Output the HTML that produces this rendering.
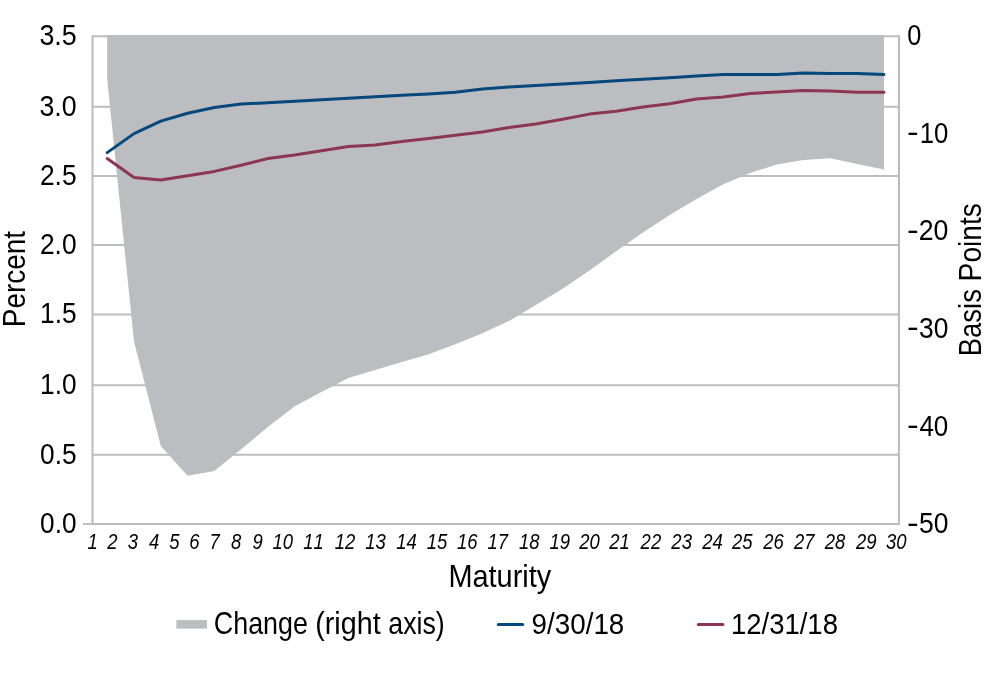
<!DOCTYPE html>
<html lang="en"><head><meta charset="utf-8"><title>Yield curve chart</title>
<style>html,body{margin:0;padding:0;background:#fff}svg{display:block}svg text{font-family:"Liberation Sans",Arial,sans-serif;font-kerning:none}</style></head>
<body>
<svg width="985" height="673" viewBox="0 0 985 673" font-size="30.7" fill="#000">
<rect width="985" height="673" fill="#fff"/>
<line x1="92.5" y1="36.25" x2="900" y2="36.25" stroke="#bcbdc0" stroke-width="2.1"/>
<line x1="92.5" y1="106.75" x2="900" y2="106.75" stroke="#bcbdc0" stroke-width="2.1"/>
<line x1="92.5" y1="176.00" x2="900" y2="176.00" stroke="#bcbdc0" stroke-width="2.1"/>
<line x1="92.5" y1="245.05" x2="900" y2="245.05" stroke="#bcbdc0" stroke-width="2.1"/>
<line x1="92.5" y1="314.50" x2="900" y2="314.50" stroke="#bcbdc0" stroke-width="2.1"/>
<line x1="92.5" y1="385.30" x2="900" y2="385.30" stroke="#bcbdc0" stroke-width="2.1"/>
<line x1="92.5" y1="454.75" x2="900" y2="454.75" stroke="#bcbdc0" stroke-width="2.1"/>
<line x1="83" y1="523.95" x2="900" y2="523.95" stroke="#bcbdc0" stroke-width="2.1"/>
<line x1="92.5" y1="35.35" x2="92.5" y2="525" stroke="#bcbdc0" stroke-width="2.1"/>
<line x1="898.95" y1="35.35" x2="898.95" y2="525" stroke="#bcbdc0" stroke-width="2.1"/>
<path d="M107.2,35 L884.0,35 L884.0,169.4 L857.2,164.0 L830.4,158.2 L803.6,160.0 L776.9,164.6 L750.1,172.9 L723.3,184.2 L696.5,199.0 L669.7,215.1 L642.9,232.6 L616.1,251.3 L589.4,270.6 L562.6,288.7 L535.8,305.0 L509.0,321.0 L482.2,333.3 L455.4,344.2 L428.6,354.3 L401.8,362.0 L375.1,370.0 L348.3,378.0 L321.5,392.0 L294.7,406.2 L267.9,427.0 L241.1,449.3 L214.3,470.9 L187.6,475.8 L160.8,446.1 L134.0,341.6 L107.2,79.0 Z" fill="#bcbdc0"/>
<polyline points="107.2,152.6 134.0,133.6 160.8,121.1 187.6,113.3 214.3,107.5 241.1,104.1 267.9,102.7 294.7,101.2 321.5,99.7 348.3,98.3 375.1,96.8 401.8,95.3 428.6,93.9 455.4,92.2 482.2,89.0 509.0,87.0 535.8,85.4 562.6,84.1 589.4,82.4 616.1,80.7 642.9,79.2 669.7,77.8 696.5,76.1 723.3,74.6 750.1,74.6 776.9,74.5 803.6,73.0 830.4,73.5 857.2,73.5 884.0,74.5" fill="none" stroke="#06487b" stroke-width="3" stroke-linecap="round" stroke-linejoin="round"/>
<polyline points="107.2,158.5 134.0,177.5 160.8,180.1 187.6,175.8 214.3,171.4 241.1,165.3 267.9,158.5 294.7,155.0 321.5,150.7 348.3,146.5 375.1,145.0 401.8,141.6 428.6,138.5 455.4,135.3 482.2,132.1 509.0,127.5 535.8,124.1 562.6,119.2 589.4,114.1 616.1,111.2 642.9,107.0 669.7,103.8 696.5,99.0 723.3,97.0 750.1,93.6 776.9,91.9 803.6,90.5 830.4,91.0 857.2,92.3 884.0,92.3" fill="none" stroke="#8b3753" stroke-width="3" stroke-linecap="round" stroke-linejoin="round"/>
<text x="39.38" y="45.05" font-size="30.4" textLength="37.25" lengthAdjust="spacingAndGlyphs">3.5</text>
<text x="39.38" y="115.55" font-size="30.4" textLength="37.16" lengthAdjust="spacingAndGlyphs">3.0</text>
<text x="39.97" y="184.80" font-size="30.4" textLength="36.63" lengthAdjust="spacingAndGlyphs">2.5</text>
<text x="39.98" y="253.85" font-size="30.4" textLength="36.55" lengthAdjust="spacingAndGlyphs">2.0</text>
<text x="40.10" y="323.30" font-size="30.4" textLength="36.50" lengthAdjust="spacingAndGlyphs">1.5</text>
<text x="40.10" y="394.10" font-size="30.4" textLength="36.42" lengthAdjust="spacingAndGlyphs">1.0</text>
<text x="40.07" y="463.55" font-size="30.4" textLength="36.53" lengthAdjust="spacingAndGlyphs">0.5</text>
<text x="40.08" y="532.75" font-size="30.4" textLength="36.45" lengthAdjust="spacingAndGlyphs">0.0</text>
<text x="907.31" y="44.90" font-size="30.4" textLength="14.08" lengthAdjust="spacingAndGlyphs">0</text>
<text x="906.93" y="142.40" font-size="30.4" textLength="11.73" lengthAdjust="spacingAndGlyphs">-</text>
<text x="919.64" y="142.70" font-size="30.4" textLength="28.67" lengthAdjust="spacingAndGlyphs">10</text>
<text x="906.93" y="239.60" font-size="30.4" textLength="11.73" lengthAdjust="spacingAndGlyphs">-</text>
<text x="918.66" y="239.90" font-size="30.4" textLength="29.68" lengthAdjust="spacingAndGlyphs">20</text>
<text x="906.93" y="337.30" font-size="30.4" textLength="11.73" lengthAdjust="spacingAndGlyphs">-</text>
<text x="919.00" y="337.60" font-size="30.4" textLength="29.33" lengthAdjust="spacingAndGlyphs">30</text>
<text x="906.93" y="435.40" font-size="30.4" textLength="11.73" lengthAdjust="spacingAndGlyphs">-</text>
<text x="919.40" y="435.70" font-size="30.4" textLength="28.91" lengthAdjust="spacingAndGlyphs">40</text>
<text x="906.93" y="532.60" font-size="30.4" textLength="11.73" lengthAdjust="spacingAndGlyphs">-</text>
<text x="918.94" y="532.90" font-size="30.4" textLength="29.39" lengthAdjust="spacingAndGlyphs">50</text>
<g transform="translate(24.5,0) rotate(-90)"><text x="-327.19" y="0.00" textLength="96.19" lengthAdjust="spacingAndGlyphs">Percent</text></g>
<g transform="translate(981.1,0) rotate(-90)"><text x="-356.25" y="0.00" textLength="67.14" lengthAdjust="spacingAndGlyphs">Basis</text><text x="-281.41" y="0.00" textLength="78.33" lengthAdjust="spacingAndGlyphs">Points</text></g>
<text x="448.43" y="586.75" textLength="102.83" lengthAdjust="spacingAndGlyphs">Maturity</text>
<text x="87.41" y="548.90" font-size="22.8" textLength="10.27" lengthAdjust="spacingAndGlyphs" font-style="italic">1</text>
<text x="107.25" y="548.90" font-size="22.8" textLength="10.27" lengthAdjust="spacingAndGlyphs" font-style="italic">2</text>
<text x="127.73" y="548.90" font-size="22.8" textLength="10.27" lengthAdjust="spacingAndGlyphs" font-style="italic">3</text>
<text x="148.95" y="548.90" font-size="22.8" textLength="10.27" lengthAdjust="spacingAndGlyphs" font-style="italic">4</text>
<text x="169.23" y="548.90" font-size="22.8" textLength="10.27" lengthAdjust="spacingAndGlyphs" font-style="italic">5</text>
<text x="189.25" y="548.90" font-size="22.8" textLength="10.27" lengthAdjust="spacingAndGlyphs" font-style="italic">6</text>
<text x="209.42" y="548.90" font-size="22.8" textLength="10.27" lengthAdjust="spacingAndGlyphs" font-style="italic">7</text>
<text x="230.98" y="548.90" font-size="22.8" textLength="10.27" lengthAdjust="spacingAndGlyphs" font-style="italic">8</text>
<text x="252.44" y="548.90" font-size="22.8" textLength="10.27" lengthAdjust="spacingAndGlyphs" font-style="italic">9</text>
<text x="272.57" y="548.90" font-size="22.8" textLength="20.54" lengthAdjust="spacingAndGlyphs" font-style="italic">10</text>
<text x="303.17" y="548.90" font-size="22.8" textLength="20.54" lengthAdjust="spacingAndGlyphs" font-style="italic">11</text>
<text x="334.73" y="548.90" font-size="22.8" textLength="20.54" lengthAdjust="spacingAndGlyphs" font-style="italic">12</text>
<text x="365.17" y="548.90" font-size="22.8" textLength="20.54" lengthAdjust="spacingAndGlyphs" font-style="italic">13</text>
<text x="396.24" y="548.90" font-size="22.8" textLength="20.54" lengthAdjust="spacingAndGlyphs" font-style="italic">14</text>
<text x="426.77" y="548.90" font-size="22.8" textLength="20.54" lengthAdjust="spacingAndGlyphs" font-style="italic">15</text>
<text x="457.09" y="548.90" font-size="22.8" textLength="20.54" lengthAdjust="spacingAndGlyphs" font-style="italic">16</text>
<text x="487.41" y="548.90" font-size="22.8" textLength="20.54" lengthAdjust="spacingAndGlyphs" font-style="italic">17</text>
<text x="518.94" y="548.90" font-size="22.8" textLength="20.54" lengthAdjust="spacingAndGlyphs" font-style="italic">18</text>
<text x="549.58" y="548.90" font-size="22.8" textLength="20.54" lengthAdjust="spacingAndGlyphs" font-style="italic">19</text>
<text x="579.16" y="548.90" font-size="22.8" textLength="20.54" lengthAdjust="spacingAndGlyphs" font-style="italic">20</text>
<text x="609.26" y="548.90" font-size="22.8" textLength="20.54" lengthAdjust="spacingAndGlyphs" font-style="italic">21</text>
<text x="640.62" y="548.90" font-size="22.8" textLength="20.54" lengthAdjust="spacingAndGlyphs" font-style="italic">22</text>
<text x="671.36" y="548.90" font-size="22.8" textLength="20.54" lengthAdjust="spacingAndGlyphs" font-style="italic">23</text>
<text x="702.23" y="548.90" font-size="22.8" textLength="20.54" lengthAdjust="spacingAndGlyphs" font-style="italic">24</text>
<text x="732.06" y="548.90" font-size="22.8" textLength="20.54" lengthAdjust="spacingAndGlyphs" font-style="italic">25</text>
<text x="763.28" y="548.90" font-size="22.8" textLength="20.54" lengthAdjust="spacingAndGlyphs" font-style="italic">26</text>
<text x="793.90" y="548.90" font-size="22.8" textLength="20.54" lengthAdjust="spacingAndGlyphs" font-style="italic">27</text>
<text x="824.84" y="548.90" font-size="22.8" textLength="20.54" lengthAdjust="spacingAndGlyphs" font-style="italic">28</text>
<text x="856.07" y="548.90" font-size="22.8" textLength="20.54" lengthAdjust="spacingAndGlyphs" font-style="italic">29</text>
<text x="886.09" y="548.90" font-size="22.8" textLength="20.54" lengthAdjust="spacingAndGlyphs" font-style="italic">30</text>
<rect x="176.4" y="620.1" width="30.6" height="8.5" fill="#bcbdc0"/>
<text x="213.84" y="633.80" textLength="94.06" lengthAdjust="spacingAndGlyphs">Change</text>
<text x="315.22" y="633.80" textLength="65.39" lengthAdjust="spacingAndGlyphs">(right</text>
<text x="388.26" y="633.80" textLength="56.50" lengthAdjust="spacingAndGlyphs">axis)</text>
<line x1="498.3" y1="624.4" x2="522.7" y2="624.4" stroke="#06487b" stroke-width="3" stroke-linecap="round"/>
<text x="531.60" y="633.80" font-size="30.4" textLength="92.71" lengthAdjust="spacingAndGlyphs">9/30/18</text>
<line x1="698.3" y1="624.4" x2="722.9" y2="624.4" stroke="#8b3753" stroke-width="3" stroke-linecap="round"/>
<text x="730.90" y="633.80" font-size="30.4" textLength="107.09" lengthAdjust="spacingAndGlyphs">12/31/18</text>
</svg>
</body></html>
